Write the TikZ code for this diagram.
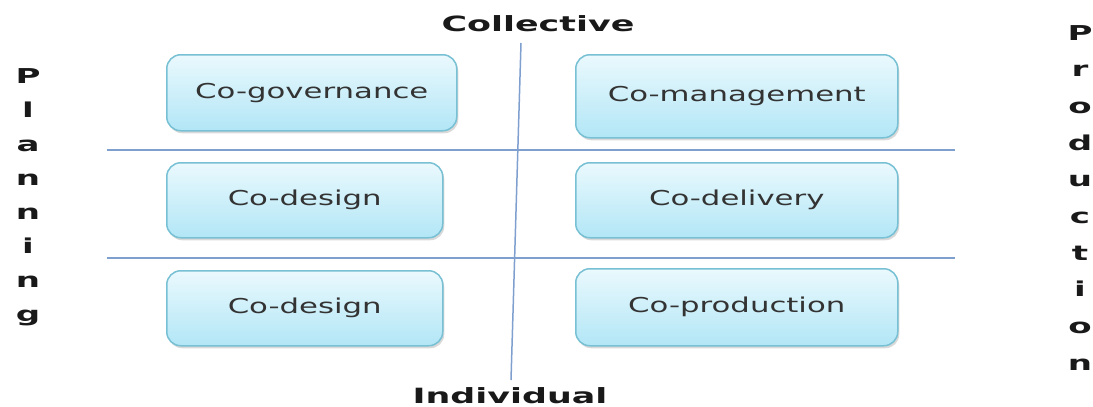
\documentclass[tikz,border=0pt]{standalone}
\usepackage{fontspec}
\usetikzlibrary{shadows}
\newfontfamily\boxfont[FakeStretch=1.5]{DejaVu Sans}
\newfontfamily\labelfont[FakeStretch=1.66]{DejaVu Sans Bold}
\definecolor{boxtop}{HTML}{EAF9FD}
\definecolor{boxbottom}{HTML}{B2E6F6}
\definecolor{boxedge}{HTML}{78C0D4}
\definecolor{gridline}{HTML}{7F9FCF}
\definecolor{boxtext}{HTML}{333333}
\tikzset{
  cell/.style={draw=boxedge, line width=1.5pt, rounded corners=14pt,
    top color=boxtop, bottom color=boxbottom,
    drop shadow={shadow xshift=1.5pt, shadow yshift=-2.5pt, opacity=0.3},
    inner sep=0pt, anchor=north west},
  celltext/.style={text=boxtext, font=\boxfont\fontsize{20.5}{24}\selectfont},
  axislabel/.style={font=\labelfont\fontsize{21}{24}\selectfont, text=black!90, anchor=base, inner sep=0pt},
  letter/.style={font=\labelfont\fontsize{20.5}{24}\selectfont, text=black!90, anchor=base},
  grid/.style={draw=gridline, line width=1.5pt}
}
\begin{document}
\begin{tikzpicture}[x=1pt, y=-1pt]
  \useasboundingbox (0,0) rectangle (1093,407);

  % divider lines
  \coordinate (hl1) at (107,150); \coordinate (hr1) at (955,150);
  \coordinate (hl2) at (107,258); \coordinate (hr2) at (955,258);
  \coordinate (vt) at (521,43);   \coordinate (vb) at (511,380);
  \draw[grid] (hl1) -- (hr1);
  \draw[grid] (hl2) -- (hr2);
  \draw[grid] (vt) -- (vb);

  % left column
  \node[cell, minimum width=290pt, minimum height=76pt] (gov) at (166,54) {};
  \node[celltext] (govt) at (gov.center) {Co-governance};
  \node[cell, minimum width=276pt, minimum height=75pt] (des1) at (166,162) {};
  \node[celltext] (des1t) at (des1.center) {Co-design};
  \node[cell, minimum width=276pt, minimum height=75pt] (des2) at (166,270) {};
  \node[celltext] (des2t) at (des2.center) {Co-design};

  % right column
  \node[cell, minimum width=322pt, minimum height=83pt] (man) at (575,54) {};
  \node[celltext] (mant) at (man.center) {Co-management};
  \node[cell, minimum width=322pt, minimum height=75pt] (del) at (575,162) {};
  \node[celltext] (delt) at (del.center) {Co-delivery};
  \node[cell, minimum width=322pt, minimum height=77pt] (pro) at (575,268) {};
  \node[celltext] (prot) at (pro.center) {Co-production};

  % axis labels
  \node[axislabel] (coll) at (538,31) {Collective};
  \node[axislabel] (indiv) at (510,403.5) {Individual};

  % vertical words
  \foreach \ch [count=\i from 0] in {P,l,a,n,n,i,n,g}
    \node[letter] (plan\i) at (28,{83+34.1*\i}) {\ch};
  \foreach \ch [count=\i from 0] in {P,r,o,d,u,c,t,i,o,n}
    \node[letter] (prod\i) at (1080,{40+36.7*\i}) {\ch};
\end{tikzpicture}
\end{document}
